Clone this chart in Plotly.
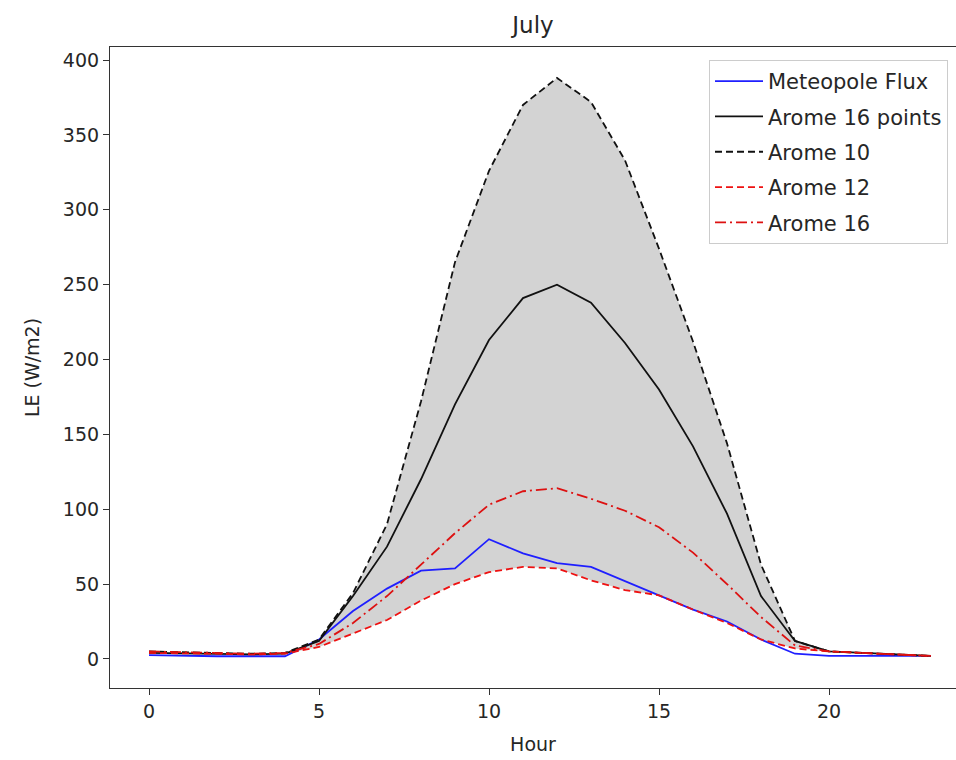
import plotly.graph_objects as go

hours = list(range(24))

meteopole = [2.5, 2, 1.8, 1.8, 1.8, 13, 32, 47, 59, 60.5, 80, 70.5, 64, 61.5, 52, 43, 33, 25, 13, 3.5, 2, 2, 2, 2]
arome_16pts = [4, 3.5, 3, 3, 3.5, 12, 42, 75, 120, 170, 213, 241, 250, 238, 211, 180, 142, 97, 42, 12, 5, 4, 3, 2]
arome_10 = [5, 4.5, 4, 3.5, 4, 13, 44, 90, 172, 265, 326, 370, 388, 372, 333, 274, 212, 144, 63, 12, 5, 4, 3, 2]
arome_12 = [4, 4, 3.5, 3, 3.5, 8, 17, 26, 39, 50, 58, 61.5, 60.5, 52.5, 46, 42.5, 33, 24, 13, 7, 5, 4, 3, 2]
arome_16 = [5, 4.5, 4, 3.5, 4, 10, 24, 42, 63, 84, 103, 112, 114, 107, 99, 88, 71, 50, 28, 9, 5, 4, 3, 2]

names = ["Meteopole Flux", "Arome 16 points", "Arome 10", "Arome 12", "Arome 16"]

upper = [max(a, b, c) for a, b, c in zip(arome_10, arome_12, arome_16)]
lower = [min(a, b, c) for a, b, c in zip(arome_10, arome_12, arome_16)]

FONT = "DejaVu Sans"
TXT = "#262626"

fig = go.Figure()
fig.add_trace(go.Scatter(x=hours, y=lower, mode="lines", line=dict(width=0, color="#d3d3d3"),
                         showlegend=False, hoverinfo="skip"))
fig.add_trace(go.Scatter(x=hours, y=upper, mode="lines", line=dict(width=0, color="#d3d3d3"),
                         fill="tonexty", fillcolor="#d3d3d3", showlegend=False, hoverinfo="skip"))

series = [
    (meteopole, names[0], "#1f1fff", "solid"),
    (arome_16pts, names[1], "#111111", "solid"),
    (arome_10, names[2], "#111111", "7px,4px"),
    (arome_12, names[3], "#ee1111", "7px,4px"),
    (arome_16, names[4], "#dd1111", "11px,4px,2px,4px"),
]
for i, (vals, nm, col, dash) in enumerate(series):
    fig.add_trace(go.Scatter(x=hours, y=vals, mode="lines", name=nm, legendgroup=f"g{i}",
                             line=dict(color=col, width=1.8, dash=dash)))

fig.update_layout(
    width=956, height=760,
    margin=dict(l=110, r=0, t=47, b=72),
    paper_bgcolor="white", plot_bgcolor="white",
    font=dict(family=FONT, size=19, color=TXT),
    title=dict(text="July", x=0.5, xref="paper", xanchor="center", y=1 - 25 / 760, yanchor="middle",
               font=dict(size=23, color=TXT)),
    legend=dict(x=(948 - 110) / 846, xanchor="right", y=(688 - 60) / 641, yanchor="top",
                bordercolor="#cccccc", borderwidth=1, bgcolor="rgba(255,255,255,0.9)",
                font=dict(size=21, color=TXT), tracegroupgap=5, traceorder="grouped",
                itemwidth=48),
    showlegend=True,
)
fig.update_xaxes(range=[-39 / 34, (956 - 149) / 34], tickvals=[0, 5, 10, 15, 20],
                 showgrid=False, zeroline=False, showline=True, linecolor="#333333", linewidth=1.2,
                 mirror=True, ticks="outside", ticklen=6, tickcolor="#333333",
                 title=dict(text="Hour", standoff=16, font=dict(size=19)))
fig.update_yaxes(range=[-19.4, 408.7], tickvals=[0, 50, 100, 150, 200, 250, 300, 350, 400],
                 showgrid=False, zeroline=False, showline=True, linecolor="#333333", linewidth=1.2,
                 mirror=False, ticks="outside", ticklen=6, tickcolor="#333333",
                 title=dict(text="LE (W/m2)", standoff=18, font=dict(size=19)))

fig.write_html("out.html")
